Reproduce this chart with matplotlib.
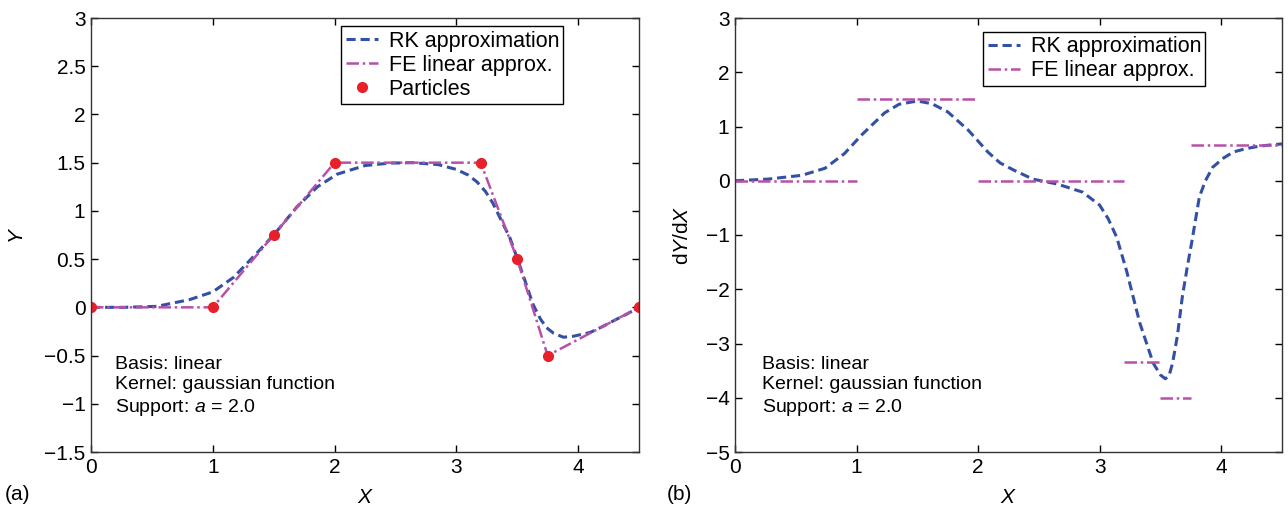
import numpy as np
import matplotlib
matplotlib.use("Agg")
import matplotlib.pyplot as plt

plt.rcParams['font.family'] = ['Liberation Sans', 'DejaVu Sans']
plt.rcParams['mathtext.fontset'] = 'custom'
plt.rcParams['mathtext.rm'] = 'Liberation Sans'
plt.rcParams['mathtext.it'] = 'Liberation Sans:italic'

# Particle data
px = [0, 1, 1.5, 2, 3.2, 3.5, 3.75, 4.5]
py = [0, 0, 0.75, 1.5, 1.5, 0.5, -0.5, 0]

# RK approximation
rk_x = [0, 0.27, 0.54, 0.81, 1.0, 1.17, 1.36, 1.5, 1.69, 1.86, 2.02, 2.25, 2.45, 2.64,
        2.85, 3.0, 3.1, 3.17, 3.24, 3.3, 3.37, 3.44, 3.5, 3.56, 3.63, 3.69, 3.74, 3.8,
        3.88, 3.96, 4.1, 4.2, 4.29, 4.4, 4.5]
rk_y = [0, 0.0, 0.01, 0.08, 0.16, 0.31, 0.56, 0.75, 1.04, 1.25, 1.38, 1.47, 1.495, 1.50,
        1.48, 1.43, 1.37, 1.30, 1.20, 1.08, 0.90, 0.72, 0.51, 0.29, 0.03, -0.12, -0.21, -0.27,
        -0.31, -0.30, -0.26, -0.20, -0.14, -0.07, 0.0]

# RK derivative
drk_x = [0, 0.27, 0.55, 0.74, 0.9, 1.04, 1.23, 1.35, 1.5, 1.62, 1.75, 1.92, 2.08, 2.18,
         2.29, 2.45, 2.65, 2.86, 3.0, 3.07, 3.14, 3.22, 3.33, 3.44, 3.5, 3.54, 3.57, 3.6,
         3.64, 3.68, 3.72, 3.76, 3.82, 3.87, 3.93, 4.02, 4.1, 4.2, 4.32, 4.5]
drk_y = [0, 0.03, 0.1, 0.23, 0.5, 0.84, 1.25, 1.41, 1.47, 1.42, 1.27, 0.93, 0.53, 0.33,
         0.20, 0.03, -0.06, -0.21, -0.45, -0.7, -1.04, -1.65, -2.62, -3.36, -3.58, -3.65, -3.6, -3.36,
         -2.85, -2.14, -1.6, -1.10, -0.3, 0.0, 0.25, 0.42, 0.53, 0.59, 0.64, 0.68]

rk_color = '#3350A4'
fe_color = '#B750A8'
pt_color = '#E8202A'

fig = plt.figure(figsize=(12.88, 5.17), dpi=100)
ax1 = fig.add_axes([91/1288, 65/517, 548/1288, 434/517])
ax2 = fig.add_axes([735/1288, 65/517, 547/1288, 434/517])

fs = 15
tfs = 14
lfs = 15.5
dash = (0, (3, 1.6))
dashdot = (0, (5, 1.5, 1, 1.5))

# Left panel
ax1.plot(rk_x, rk_y, linestyle=dash, color=rk_color, lw=2.2, label='RK approximation')
ax1.plot(px, py, linestyle=dashdot, color=fe_color, lw=1.8, label='FE linear approx.')
ax1.plot(px, py, 'o', color=pt_color, ms=7, label='Particles', linestyle='none')
ax1.set_xlim(0, 4.5)
ax1.set_ylim(-1.5, 3)
ax1.set_xticks([0, 1, 2, 3, 4])
ax1.set_yticks(np.arange(-1.5, 3.01, 0.5))
ax1.set_yticklabels(['\u22121.5', '\u22121', '\u22120.5', '0', '0.5', '1', '1.5', '2', '2.5', '3'])
ax1.set_xlabel('$\\mathit{X}$', fontsize=fs, labelpad=8)
ax1.set_ylabel('$\\mathit{Y}$', fontsize=fs, labelpad=12)
leg1 = ax1.legend(loc='upper right', bbox_to_anchor=(0.862, 0.981), fontsize=lfs, handlelength=1.5,
                  borderpad=0.2, labelspacing=0.15, handletextpad=0.5, fancybox=False,
                  edgecolor='black', framealpha=1, borderaxespad=0)
leg1.get_frame().set_linewidth(1.0)
ax1.text(0.044, 0.222, 'Basis: linear\nKernel: gaussian function\nSupport: $a$ = 2.0',
         transform=ax1.transAxes, fontsize=tfs, va='top', ha='left', linespacing=1.25)
fig.text(5/1288, 1 - 495/517, '(a)', fontsize=fs, va='center', ha='left')

# Right panel: FE derivative is piecewise constant slope of particle data
slopes = np.diff(py) / np.diff(px)
ax2.plot(drk_x, drk_y, linestyle=dash, color=rk_color, lw=2.2, label='RK approximation')
for i in range(len(slopes)):
    ax2.plot([px[i], px[i + 1]], [slopes[i], slopes[i]], linestyle=dashdot,
             color=fe_color, lw=1.8, label='FE linear approx.' if i == 0 else None)
ax2.set_xlim(0, 4.5)
ax2.set_ylim(-5, 3)
ax2.set_xticks([0, 1, 2, 3, 4])
ax2.set_yticks(np.arange(-5, 3.01, 1))
ax2.set_yticklabels(['\u22125', '\u22124', '\u22123', '\u22122', '\u22121', '0', '1', '2', '3'])
ax2.set_xlabel('$\\mathit{X}$', fontsize=fs, labelpad=8)
ax2.set_ylabel('d$\\mathit{Y}$/d$\\mathit{X}$', fontsize=fs, labelpad=10)
leg2 = ax2.legend(loc='upper right', bbox_to_anchor=(0.86, 0.968), fontsize=lfs, handlelength=1.5,
                  borderpad=0.2, labelspacing=0.15, handletextpad=0.5, fancybox=False,
                  edgecolor='black', framealpha=1, borderaxespad=0)
leg2.get_frame().set_linewidth(1.0)
ax2.text(0.05, 0.222, 'Basis: linear\nKernel: gaussian function\nSupport: $a$ = 2.0',
         transform=ax2.transAxes, fontsize=tfs, va='top', ha='left', linespacing=1.25)
fig.text(667/1288, 1 - 495/517, '(b)', fontsize=fs, va='center', ha='left')

for ax in (ax1, ax2):
    ax.tick_params(direction='in', top=True, right=True, labelsize=fs, length=5, width=1, pad=4)
    for s in ax.spines.values():
        s.set_linewidth(1.0)
        s.set_color('#333333')

fig.savefig('out.png', dpi=100)
